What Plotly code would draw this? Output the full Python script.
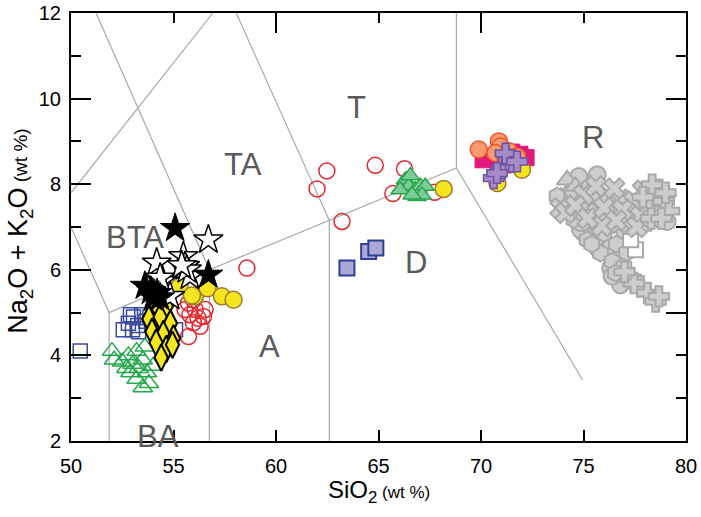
import plotly.graph_objects as go

# ---- TAS classification boundaries (SiO2, Na2O+K2O) ----
tas_lines = [
    [(51.86, 2.0), (51.86, 5.0)],
    [(50.0, 7.0), (51.86, 5.0), (56.75, 6.0), (62.6, 7.15), (68.8, 8.38), (74.95, 3.43)],
    [(56.75, 2.0), (56.75, 6.0)],
    [(62.6, 2.0), (62.6, 7.15)],
    [(51.22, 12.0), (56.75, 6.0)],
    [(58.06, 12.0), (62.6, 7.15)],
    [(50.0, 7.8), (56.92, 12.0)],
    [(68.8, 12.0), (68.8, 8.38)],
]
field_names = ["T", "TA", "R", "BTA", "D", "A", "BA"]
field_x = [63.95, 58.4, 75.45, 53.1, 66.85, 59.7, 54.25]
field_y = [9.8, 8.45, 9.08, 6.75, 6.16, 4.2, 2.1]

# ---- sample groups ----
blue_open_x = [50.45, 52.55, 52.8, 53.0, 53.05, 53.25, 53.45, 53.65, 53.85, 54.05, 53.3, 55.1, 54.3, 54.7, 52.9]
blue_open_y = [4.1, 4.6, 4.75, 4.6, 4.9, 4.7, 4.95, 4.8, 4.9, 4.75, 4.55, 4.6, 5.0, 4.65, 4.95]

green_open_x = [52.0, 52.1, 52.5, 52.8, 53.0, 53.2, 52.9, 53.3, 53.5, 53.7, 53.2, 53.8, 54.0, 53.6, 52.7, 53.5]
green_open_y = [4.1, 3.9, 3.85, 4.0, 3.8, 4.1, 3.6, 3.7, 3.9, 3.6, 3.45, 3.35, 3.75, 4.2, 3.7, 3.25]

red_open_x = [58.58, 55.73, 56.06, 55.8, 56.2, 56.46, 55.97, 56.3, 55.73, 55.56, 55.97, 56.54,
              62.48, 62.0, 64.84, 66.27, 65.7, 67.74, 63.22]
red_open_y = [6.04, 5.22, 5.07, 4.95, 4.87, 4.91, 4.76, 4.68, 4.44, 5.07, 5.3, 5.07,
              8.31, 7.89, 8.44, 8.36, 7.78, 7.81, 7.13]

yellow_left_x = [55.3, 56.05, 56.66, 57.36, 57.93, 55.9]
yellow_left_y = [5.61, 5.38, 5.57, 5.38, 5.3, 5.4]
yellow_right_x = [68.18, 72.0, 70.8]
yellow_right_y = [7.89, 8.34, 8.03]

diamond_x = [54.15, 54.65, 53.8, 54.35, 54.85, 53.95, 54.5, 55.0, 54.15, 54.65, 54.95, 54.4]
diamond_y = [5.2, 5.15, 4.85, 4.9, 4.75, 4.55, 4.5, 4.4, 4.3, 4.15, 4.25, 3.95]

open_star_x = [56.7, 54.18, 55.48, 55.56, 55.8, 54.43, 54.83, 55.65, 55.4, 54.35]
open_star_y = [6.7, 6.16, 6.31, 6.08, 5.85, 5.73, 5.38, 6.0, 6.1, 5.81]

black_star_x = [55.08, 56.7, 53.6, 53.9, 54.2, 54.35, 54.0]
black_star_y = [6.97, 5.88, 5.62, 5.5, 5.45, 5.35, 5.35]

lav_square_x = [63.46, 64.52, 64.87]
lav_square_y = [6.04, 6.43, 6.51]

green_fill_x = [66.31, 66.47, 66.8, 67.04, 67.28, 66.06, 66.88, 67.12, 66.64, 66.55]
green_fill_y = [8.1, 7.95, 7.87, 7.95, 7.95, 7.87, 7.71, 7.75, 7.75, 8.2]

magenta_x = [70.1, 70.5, 71.5, 71.9, 72.2, 70.9]
magenta_y = [8.57, 8.65, 8.75, 8.7, 8.62, 8.5]

orange_x = [69.89, 70.87, 70.95, 71.36, 71.76, 70.7, 71.19, 71.4]
orange_y = [8.81, 9.0, 8.88, 8.77, 8.65, 8.73, 8.61, 8.46]

purple_x = [70.62, 71.03, 71.36, 71.52, 71.2, 71.76, 70.78]
purple_y = [8.14, 8.37, 8.57, 8.53, 8.72, 8.53, 8.26]

# rhyolite group, by symbol
r_circle_x = [74.77, 75.67, 74.36, 75.02, 76.8, 79.08, 76.32, 74.85, 74.9, 75.7, 76.4, 78.9]
r_circle_y = [8.18, 8.22, 7.79, 6.86, 5.65, 7.13, 6.04, 6.94, 7.1, 6.5, 5.85, 7.45]
r_tri_x = [74.2, 73.9, 74.6]
r_tri_y = [8.1, 7.7, 7.95]
r_hex_x = [73.71, 76.16, 76.8, 75.59, 75.83, 76.4, 76.97, 76.56, 75.18, 74.53, 75.3,
           74.3, 75.0, 75.4, 76.0, 76.6, 77.1, 77.0]
r_hex_y = [7.72, 6.51, 6.31, 6.7, 6.39, 6.2, 6.08, 5.92, 6.7, 7.17, 7.95,
           7.45, 7.3, 6.6, 6.85, 6.6, 6.4, 6.9]
r_square_x = [77.54, 77.3, 77.3, 77.95, 78.6]
r_square_y = [6.47, 6.7, 7.01, 7.09, 7.33]
r_x_x = [73.88, 75.34, 76.16, 76.8, 77.46, 78.11, 75.67, 76.4, 77.13, 77.78, 76.73, 75.9, 74.12, 75.0,
         76.5, 77.9, 74.6, 75.2, 76.0, 76.9, 77.6, 78.4, 75.6, 76.6]
r_x_y = [7.44, 7.6, 7.72, 7.64, 7.6, 7.48, 7.33, 7.25, 7.33, 7.25, 7.09, 7.02, 7.33, 7.75,
         7.9, 7.85, 7.5, 7.2, 7.45, 7.4, 7.0, 7.2, 7.95, 7.15]
r_cross_x = [78.68, 78.52, 78.92, 78.35, 79.17, 77.3, 77.78, 78.11, 78.52, 78.68, 77.46, 78.3,
             77.9, 78.8, 79.0, 77.0]
r_cross_y = [7.87, 7.72, 7.6, 7.99, 7.37, 5.81, 5.61, 5.46, 5.26, 5.38, 5.69, 7.2,
             7.7, 7.2, 7.8, 5.95]

fig = go.Figure()

# boundaries
bx, by = [], []
for seg in tas_lines:
    for px, py in seg:
        bx.append(px)
        by.append(py)
    bx.append(None)
    by.append(None)
fig.add_trace(go.Scatter(x=bx, y=by, mode="lines", line=dict(color="#a8a8a8", width=1.2),
                         hoverinfo="skip"))

GRAY_FILL, GRAY_LINE = "#cdcdcd", "#a9a9a9"


def pts(x, y, symbol, size, fill, line, lw=1.5):
    fig.add_trace(go.Scatter(x=x, y=y, mode="markers",
                             marker=dict(symbol=symbol, size=size, color=fill,
                                         line=dict(color=line, width=lw))))


# rhyolite cluster
pts(r_circle_x, r_circle_y, "circle", 17, GRAY_FILL, GRAY_LINE, 2)
pts(r_tri_x, r_tri_y, "triangle-up", 18, GRAY_FILL, GRAY_LINE, 2)
pts(r_hex_x, r_hex_y, "hexagon", 17, GRAY_FILL, GRAY_LINE, 2)
pts(r_square_x, r_square_y, "square", 15, "white", GRAY_LINE, 2)
pts(r_x_x, r_x_y, "x", 18, GRAY_FILL, GRAY_LINE, 2)
pts(r_cross_x, r_cross_y, "cross", 17, GRAY_FILL, GRAY_LINE, 2)

# basaltic group
pts(blue_open_x, blue_open_y, "square", 14, "rgba(0,0,0,0)", "#3a4aa0", 1.5)
pts(green_open_x, green_open_y, "triangle-up", 17, "rgba(0,0,0,0)", "#25a84b", 1.5)
pts(red_open_x, red_open_y, "circle", 16, "rgba(0,0,0,0)", "#e5262d", 1.5)
pts(yellow_left_x, yellow_left_y, "circle", 17, "#f4e51e", "#9c7a2c", 1.5)
pts(diamond_x, diamond_y, "diamond-tall", 19, "#f4e51e", "black", 2)
pts(open_star_x, open_star_y, "star", 22, "white", "black", 1.5)
pts(black_star_x, black_star_y, "star", 22, "black", "black", 1)

# dacitic / rhyolitic groups
pts(lav_square_x, lav_square_y, "square", 15, "#a9a8d6", "#2f3f95", 2)
pts(green_fill_x, green_fill_y, "triangle-up", 16, "#7ecb98", "#25a84b", 1.5)
pts(magenta_x, magenta_y, "square", 16, "#e2187b", "#e2187b", 1)
pts(orange_x, orange_y, "circle", 17, "#f89a72", "#f05324", 1.5)
pts(yellow_right_x, yellow_right_y, "circle", 17, "#f4e51e", "#9c7a2c", 1.5)
pts(purple_x, purple_y, "cross", 17, "#a68bc7", "#6e51a2", 1.5)

# second axes carry the top/right tick marks
fig.add_trace(go.Scatter(x=[50], y=[2], xaxis="x2", yaxis="y2", mode="markers",
                         marker=dict(opacity=0), hoverinfo="skip"))

for name, fx, fy in zip(field_names, field_x, field_y):
    fig.add_annotation(x=fx, y=fy, text=name, showarrow=False,
                       font=dict(size=31, color="#5a5a5a", family="Liberation Sans, Arial"))

fig.add_annotation(xref="paper", yref="paper", x=0.5, y=-0.118, yanchor="middle",
                   showarrow=False,
                   text="SiO<sub>2</sub><span style='font-size:17px'> (wt %)</span>",
                   font=dict(size=24, color="black", family="Liberation Sans, Arial"))
fig.add_annotation(xref="paper", yref="paper", x=-0.082, y=0.49, xanchor="center",
                   yanchor="middle", textangle=-90, showarrow=False,
                   text="Na<sub>2</sub>O + K<sub>2</sub>O<span style='font-size:19px'> (wt %)</span>",
                   font=dict(size=27, color="black", family="Liberation Sans, Arial"))

tickfont = dict(size=20, color="black", family="Liberation Sans, Arial")
fig.update_layout(
    template="none",
    width=701, height=517,
    margin=dict(l=71, r=15, t=13, b=76, autoexpand=False),
    paper_bgcolor="white", plot_bgcolor="white",
    showlegend=False,
    xaxis=dict(range=[50, 80], dtick=5, ticks="inside", ticklen=11, tickwidth=2,
               tickcolor="black", showgrid=False, zeroline=False, showline=True,
               linewidth=2, linecolor="black", mirror=True, tickfont=tickfont,
               ticklabelstandoff=6, automargin=False),
    yaxis=dict(range=[2, 12], dtick=2, ticks="inside", ticklen=20, tickwidth=2,
               tickcolor="black", showgrid=False, zeroline=False, showline=True,
               linewidth=2, linecolor="black", mirror=True, tickfont=tickfont,
               ticklabelstandoff=4, automargin=False,
               minor=dict(dtick=1, ticks="inside", ticklen=10, tickwidth=2,
                          tickcolor="black", showgrid=False)),
    xaxis2=dict(range=[50, 80], overlaying="x", side="top", anchor="y", dtick=10,
                ticks="inside", ticklen=20, tickwidth=2, tickcolor="black",
                showticklabels=False, showgrid=False, zeroline=False, automargin=False,
                minor=dict(dtick=5, ticks="inside", ticklen=10, tickwidth=2,
                           tickcolor="black", showgrid=False)),
    yaxis2=dict(range=[2, 12], overlaying="y", side="right", anchor="x",
                tickvals=[5, 10], ticks="inside", ticklen=20, tickwidth=2,
                tickcolor="black", showticklabels=False, showgrid=False, zeroline=False,
                automargin=False,
                minor=dict(dtick=1, ticks="inside", ticklen=10, tickwidth=2,
                           tickcolor="black", showgrid=False)),
)

fig.write_html("out.html")
